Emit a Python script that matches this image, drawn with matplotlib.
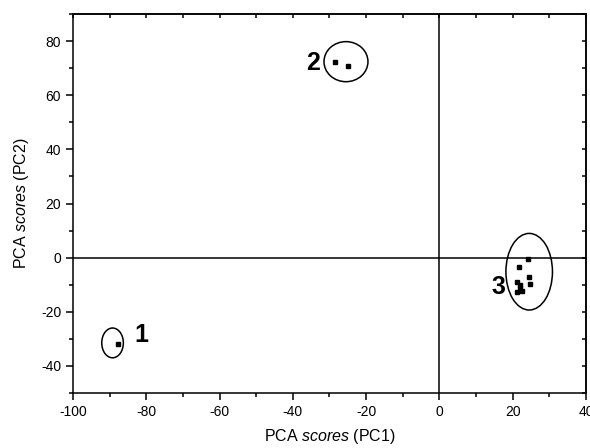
import matplotlib.pyplot as plt
from matplotlib.patches import Ellipse
from matplotlib.ticker import MultipleLocator

plt.rcParams['font.family'] = ['Liberation Sans', 'DejaVu Sans']
plt.rcParams['axes.unicode_minus'] = False
plt.rcParams['mathtext.fontset'] = 'custom'
plt.rcParams['mathtext.rm'] = 'Liberation Sans'
plt.rcParams['mathtext.it'] = 'Liberation Sans:italic'

# PCA scores of the samples
pc1_g1 = [-87.6]
pc2_g1 = [-31.8]
pc1_g2 = [-28.5, -24.9]
pc2_g2 = [72.3, 70.8]
pc1_g3 = [24.3, 21.8, 24.4, 24.7, 21.1, 22.0, 22.5, 21.3, 21.9]
pc2_g3 = [-0.5, -3.4, -7.3, -9.9, -8.9, -10.1, -12.2, -12.8, -11.3]

# cluster ellipses: centre x, centre y, width, height
clusters = [(-89.2, -31.5, 5.9, 11.0), (-25.5, 72.4, 12.0, 14.8), (24.5, -5.2, 12.7, 28.3)]
labels = ['1', '2', '3']
label_pos = [(-81.4, -28.6), (-34.5, 71.9), (16.0, -10.9)]


def main():
    fig = plt.figure(figsize=(5.9, 4.48), dpi=100)
    ax = fig.add_axes([0.1237, 0.1228, 0.8695, 0.8459])

    ax.axhline(0, color='black', lw=1.1, zorder=1)
    ax.axvline(0, color='black', lw=1.1, zorder=1)

    for xs, ys in [(pc1_g1, pc2_g1), (pc1_g2, pc2_g2), (pc1_g3, pc2_g3)]:
        ax.plot(xs, ys, 's', color='black', ms=2.8, mec='black', zorder=3)

    for (cx, cy, w, h), lab, (lx, ly) in zip(clusters, labels, label_pos):
        ax.add_patch(Ellipse((cx, cy), w, h, fill=False, ec='black', lw=1.1, zorder=2))
        ax.text(lx, ly, lab, fontsize=18, fontweight='bold', ha='center', va='center')

    ax.set_xlim(-100, 40)
    ax.set_ylim(-50, 90)
    ax.xaxis.set_major_locator(MultipleLocator(20))
    ax.xaxis.set_minor_locator(MultipleLocator(10))
    ax.yaxis.set_major_locator(MultipleLocator(20))
    ax.yaxis.set_minor_locator(MultipleLocator(10))
    ax.tick_params(which='major', direction='out', length=5, width=1.1, labelsize=10)
    ax.tick_params(which='minor', direction='out', length=3, width=1.1)

    # inward ticks on top and right
    sec_x = ax.secondary_xaxis('top')
    sec_x.xaxis.set_major_locator(MultipleLocator(10))
    sec_x.tick_params(direction='in', length=3, width=1.1, labeltop=False)
    sec_y = ax.secondary_yaxis('right')
    sec_y.yaxis.set_major_locator(MultipleLocator(10))
    sec_y.tick_params(direction='in', length=3, width=1.1, labelright=False)
    for s in ['top', 'right', 'left', 'bottom']:
        ax.spines[s].set_linewidth(1.1)
    sec_x.spines['top'].set_linewidth(1.1)
    sec_y.spines['right'].set_linewidth(1.1)

    ax.set_xlabel('PCA $\\it{scores}$ (PC1)', fontsize=11.5, labelpad=6)
    ax.set_ylabel('PCA $\\it{scores}$ (PC2)', fontsize=11.5, labelpad=7)

    fig.savefig('out.png', dpi=100)


if __name__ == "__main__":
    main()
